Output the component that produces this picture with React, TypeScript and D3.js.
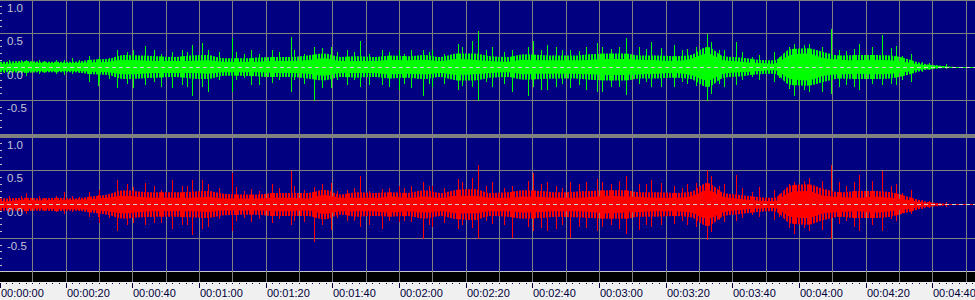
import React from "react";
import * as d3 from "d3";

// ---- data (5-second bins, amplitude as fraction of full scale) ----
const BIN_SECONDS = 5;
const DURATION = 292.5;

const greenCore = [0.05,0.07,0.06,0.06,0.06,0.07,0.08,0.11,0.1,0.09,0.09,0.09,0.1,0.08,0.08,0.08,0.09,0.09,0.1,0.13,0.09,0.09,0.09,0.11,0.1,0.11,0.09,0.12,0.11,0.09,0.08,0.11,0.1,0.1,0.1,0.11,0.12,0.12,0.11,0.1,0.09,0.12,0.2,0.1,0.08,0.06,0.05,0.18,0.2,0.13,0.11,0.1,0.11,0.1,0.07,0.03,0.01,0,0];
const greenFringe = [0.08,0.09,0.08,0.08,0.08,0.11,0.12,0.18,0.17,0.16,0.15,0.17,0.18,0.13,0.13,0.14,0.15,0.15,0.17,0.2,0.15,0.16,0.15,0.17,0.16,0.18,0.15,0.2,0.2,0.16,0.15,0.19,0.18,0.17,0.17,0.19,0.2,0.2,0.17,0.17,0.16,0.18,0.3,0.16,0.14,0.11,0.1,0.27,0.28,0.22,0.17,0.18,0.18,0.17,0.12,0.05,0.02,0,0];
const greenPeakUp = [0.1,0.11,0.11,0.11,0.13,0.16,0.15,0.25,0.31,0.26,0.23,0.33,0.36,0.43,0.23,0.25,0.26,0.45,0.3,0.3,0.25,0.39,0.25,0.25,0.25,0.26,0.25,0.34,0.53,0.3,0.26,0.39,0.33,0.3,0.26,0.36,0.3,0.43,0.3,0.38,0.33,0.3,0.5,0.26,0.38,0.18,0.23,0.35,0.35,0.56,0.26,0.34,0.48,0.31,0.2,0.08,0.045,0,0];
const greenPeakDown = [0.1,0.13,0.1,0.12,0.1,0.22,0.22,0.32,0.27,0.22,0.32,0.44,0.3,0.38,0.19,0.27,0.24,0.37,0.5,0.32,0.27,0.3,0.27,0.34,0.32,0.43,0.3,0.34,0.5,0.3,0.37,0.3,0.35,0.3,0.32,0.38,0.37,0.42,0.25,0.3,0.3,0.29,0.5,0.3,0.27,0.19,0.23,0.44,0.38,0.4,0.3,0.35,0.27,0.27,0.22,0.07,0.03,0,0];
const greenSecondUp = [0.08,0.1,0.09,0.1,0.1,0.12,0.13,0.23,0.26,0.2,0.26,0.22,0.26,0.23,0.2,0.2,0.22,0.25,0.2,0.28,0.22,0.22,0.2,0.22,0.2,0.22,0.2,0.3,0.39,0.25,0.22,0.3,0.25,0.26,0.24,0.3,0.27,0.3,0.27,0.28,0.25,0.27,0.38,0.25,0.22,0.15,0.15,0.3,0.33,0.3,0.24,0.27,0.3,0.28,0.17,0.06,0.03,0,0];
const greenSecondDown = [0.09,0.1,0.09,0.1,0.09,0.29,0.18,0.26,0.32,0.3,0.27,0.3,0.37,0.19,0.17,0.27,0.2,0.2,0.25,0.32,0.2,0.2,0.27,0.3,0.25,0.25,0.25,0.28,0.3,0.22,0.25,0.44,0.35,0.25,0.27,0.34,0.3,0.3,0.22,0.3,0.22,0.25,0.4,0.25,0.2,0.15,0.17,0.33,0.35,0.38,0.27,0.3,0.25,0.25,0.2,0.05,0.02,0,0];

const redCore = [0.05,0.07,0.06,0.07,0.07,0.08,0.1,0.13,0.11,0.1,0.1,0.1,0.11,0.09,0.09,0.09,0.1,0.1,0.09,0.14,0.1,0.1,0.1,0.12,0.1,0.12,0.1,0.13,0.13,0.1,0.1,0.12,0.11,0.1,0.1,0.11,0.13,0.12,0.11,0.1,0.1,0.12,0.21,0.11,0.08,0.06,0.05,0.18,0.2,0.13,0.11,0.1,0.12,0.1,0.07,0.03,0.012,0,0];
const redFringe = [0.09,0.1,0.09,0.1,0.09,0.12,0.15,0.21,0.19,0.18,0.18,0.19,0.2,0.16,0.15,0.15,0.17,0.17,0.17,0.22,0.15,0.18,0.17,0.18,0.17,0.21,0.17,0.22,0.23,0.17,0.18,0.21,0.2,0.18,0.19,0.2,0.21,0.21,0.18,0.18,0.17,0.19,0.32,0.17,0.14,0.11,0.1,0.28,0.3,0.23,0.18,0.2,0.2,0.18,0.12,0.05,0.02,0,0];
const redPeakUp = [0.13,0.17,0.13,0.18,0.13,0.18,0.21,0.36,0.32,0.28,0.36,0.36,0.36,0.46,0.26,0.23,0.31,0.5,0.26,0.32,0.21,0.42,0.23,0.28,0.28,0.33,0.27,0.38,0.58,0.33,0.28,0.46,0.33,0.28,0.33,0.38,0.33,0.42,0.3,0.36,0.28,0.32,0.51,0.31,0.43,0.26,0.22,0.33,0.4,0.59,0.33,0.43,0.5,0.31,0.21,0.06,0.035,0,0];
const redPeakDown = [0.11,0.14,0.1,0.14,0.11,0.18,0.28,0.39,0.31,0.28,0.36,0.45,0.36,0.39,0.24,0.26,0.28,0.3,0.56,0.38,0.24,0.34,0.36,0.26,0.26,0.51,0.34,0.36,0.51,0.29,0.49,0.39,0.39,0.36,0.49,0.39,0.34,0.44,0.38,0.34,0.29,0.34,0.52,0.26,0.24,0.19,0.23,0.44,0.39,0.51,0.29,0.39,0.39,0.24,0.14,0.06,0.03,0,0];
const redSecondUp = [0.1,0.12,0.1,0.13,0.11,0.14,0.16,0.3,0.26,0.22,0.28,0.28,0.3,0.25,0.2,0.2,0.25,0.28,0.22,0.3,0.2,0.24,0.2,0.25,0.25,0.27,0.24,0.33,0.4,0.27,0.25,0.35,0.3,0.25,0.3,0.33,0.3,0.35,0.3,0.32,0.25,0.3,0.42,0.27,0.25,0.18,0.16,0.3,0.35,0.35,0.27,0.33,0.35,0.27,0.17,0.05,0.025,0,0];
const redSecondDown = [0.09,0.11,0.09,0.11,0.1,0.18,0.2,0.3,0.28,0.28,0.3,0.3,0.33,0.22,0.2,0.22,0.22,0.25,0.26,0.3,0.2,0.25,0.3,0.25,0.24,0.3,0.28,0.3,0.35,0.25,0.3,0.33,0.35,0.3,0.33,0.35,0.3,0.36,0.3,0.3,0.25,0.3,0.4,0.23,0.2,0.16,0.18,0.35,0.35,0.38,0.25,0.33,0.3,0.22,0.13,0.05,0.02,0,0];

// time (s) of the tallest and second-tallest spike in each bin
const spikeTimes = [3,8,12,19.5,22,27,30,35.5,43.8,46.5,52,57.8,61,69.8,71,75.7,82,87.5,94.4,99.5,104.5,108.2,114.8,120,123.5,127.3,130,137.8,143.8,148,154,160.3,164.5,167,171.2,179.3,181,188.2,192,195.7,202.5,209,212.5,217.5,221.2,228,232.5,238.5,243,249.5,252,258,265,269,273.5,277,284,287,291];
const secondTimes = [1.5,6.5,13.5,17,24,29.8,33,38.5,40.3,48.7,55,56.5,62.8,66,73.5,78,84,88.5,91.5,97,101.5,106.5,111,117,121.5,129,133.5,139,142,146,151.5,158.8,162.5,169,174,176,183.5,186,194,198.5,205,206.5,213.5,216,223,226,234,237,241.5,247,254,256.5,262,267.5,271,279,281,288,290];

const ampTicks = [1.0, 0.5, 0.0, -0.5];
const ampLabels = ["1.0", "0.5", "0.0", "-0.5"];
const timeLabels = ["00:00:00","00:00:20","00:00:40","00:01:00","00:01:20","00:01:40","00:02:00","00:02:20","00:02:40","00:03:00","00:03:20","00:03:40","00:04:00","00:04:20","00:04:40"];

const W = 975;
const H = 300;
const NAVY = "#000080";
const GRID = "#808080";

interface Channel {
  core: number[];
  fringe: number[];
  spikes: { times: number[]; up: number[]; down: number[] }[];
  color: string;
  y: d3.ScaleLinear<number, number>;
  id: string;
}

export default function App() {
  const x = d3.scaleLinear().domain([0, DURATION]).range([-1, 974]);

  const channels: Channel[] = [
    { core: greenCore, fringe: greenFringe,
      spikes: [
        { times: secondTimes, up: greenSecondUp, down: greenSecondDown },
        { times: spikeTimes, up: greenPeakUp, down: greenPeakDown },
      ],
      color: "#00ff00", y: d3.scaleLinear().domain([-1, 1]).range([134, 0]), id: "g" },
    { core: redCore, fringe: redFringe,
      spikes: [
        { times: secondTimes, up: redSecondUp, down: redSecondDown },
        { times: spikeTimes, up: redPeakUp, down: redPeakDown },
      ],
      color: "#ff0000", y: d3.scaleLinear().domain([-1, 1]).range([272, 137]), id: "r" },
  ];

  const binMid = (i: number) => i * BIN_SECONDS + BIN_SECONDS / 2;

  const gridTimes = d3.range(0, DURATION, 10);
  const minorTimes = d3.range(0, DURATION, 2);
  const majorTimes = timeLabels.map((_, i) => i * 20);
  const ampMinor = d3.range(-9, 10).map((d) => d / 10).filter((v) => Math.abs(v * 2 - Math.round(v * 2)) > 1e-6);
  const font = "'Liberation Sans', Arial, sans-serif";

  return (
    <svg width={W} height={H} style={{ position: "absolute", left: 0, top: 0, display: "block" }}
      xmlns="http://www.w3.org/2000/svg">
      <defs>
        {channels.map((c) => (
          <pattern key={c.id} id={`hatch-${c.id}`} width={3} height={2} patternUnits="userSpaceOnUse">
            <rect x={0} y={0} width={2} height={2} fill={c.color} />
          </pattern>
        ))}
      </defs>
      {/* backgrounds */}
      <rect x={0} y={0} width={W} height={H} fill="#f0f0f0" />
      <rect x={0} y={0} width={W} height={271} fill={NAVY} />
      <rect x={0} y={134} width={W} height={4} fill={GRID} />
      <rect x={0} y={271} width={W} height={1} fill="#c8c8c8" />
      <rect x={0} y={272} width={W} height={10} fill="#000000" />

      {/* vertical grid */}
      {gridTimes.map((t) => (
        <line key={`vg${t}`} x1={Math.round(x(t)) + 0.5} x2={Math.round(x(t)) + 0.5} y1={0} y2={282}
          stroke={GRID} strokeWidth={1} />
      ))}

      {channels.map((c) => {
        const pts = c.core.map((v, i) => ({ t: binMid(i), core: v, fringe: c.fringe[i] }));
        const padded = [{ t: 0, core: pts[0].core, fringe: pts[0].fringe }, ...pts,
          { t: DURATION, core: pts[pts.length - 1].core, fringe: pts[pts.length - 1].fringe }];
        const zero = c.y(0);
        const fringeArea = d3.area<any>().x((d) => x(d.t)).y0((d) => c.y(-d.fringe)).y1((d) => c.y(d.fringe))
          .curve(d3.curveMonotoneX);
        const coreArea = d3.area<any>().x((d) => x(d.t)).y0((d) => c.y(-d.core)).y1((d) => c.y(d.core))
          .curve(d3.curveMonotoneX);
        return (
          <g key={c.id}>
            {/* horizontal grid */}
            {ampTicks.filter((v) => v !== 0).map((v) => (
              <line key={`hg${v}`} x1={0} x2={W} y1={Math.floor(c.y(v)) + 0.5} y2={Math.floor(c.y(v)) + 0.5}
                stroke={GRID} strokeWidth={1} />
            ))}
            {/* amplitude minor ticks */}
            {ampMinor.map((v) => (
              <rect key={`am${v}`} x={0} y={Math.floor(c.y(v))} width={2} height={1} fill="#c0c0c0" />
            ))}
            {/* silence baseline */}
            <line x1={0} x2={W} y1={Math.floor(zero) + 0.5} y2={Math.floor(zero) + 0.5} stroke={c.color} strokeWidth={1} />
            <path d={fringeArea(padded) || ""} fill={`url(#hatch-${c.id})`} />
            <path d={coreArea(padded) || ""} fill={c.color} />
            {c.spikes.map((s, k) => (
              <g key={`s${k}`} shapeRendering="crispEdges">
                {s.times.map((t, i) => (
                  <line key={`sp${i}`} x1={Math.round(x(t)) + 0.5} x2={Math.round(x(t)) + 0.5}
                    y1={c.y(s.up[i])} y2={c.y(-s.down[i])} stroke={c.color} strokeWidth={1} />
                ))}
              </g>
            ))}
            {/* dashed zero line */}
            <line x1={0} x2={W} y1={Math.floor(zero) + 0.5} y2={Math.floor(zero) + 0.5} stroke="#d0d0d0"
              strokeWidth={1} strokeDasharray="4 3" />
            {/* labels */}
            {ampTicks.map((v, i) => (
              <text key={`al${v}`} x={7} y={Math.floor(c.y(v)) + 12} fill="#c4c4d4"
                fontFamily={font} fontSize={11.5}>{ampLabels[i]}</text>
            ))}
          </g>
        );
      })}

      {/* time axis */}
      {minorTimes.map((t) => (
        <rect key={`mt${t}`} x={Math.round(x(t))} y={283} width={1} height={1} fill="#000040" />
      ))}
      {majorTimes.map((t) => (
        <rect key={`Mt${t}`} x={Math.max(0, Math.round(x(t)))} y={283} width={1} height={5} fill="#000040" />
      ))}
      {timeLabels.map((s, i) => (
        <text key={s} x={Math.max(0, Math.round(x(majorTimes[i]))) + 1} y={297} fill="#00003c"
          fontFamily={font} fontSize={11}>{s}</text>
      ))}
    </svg>
  );
}
